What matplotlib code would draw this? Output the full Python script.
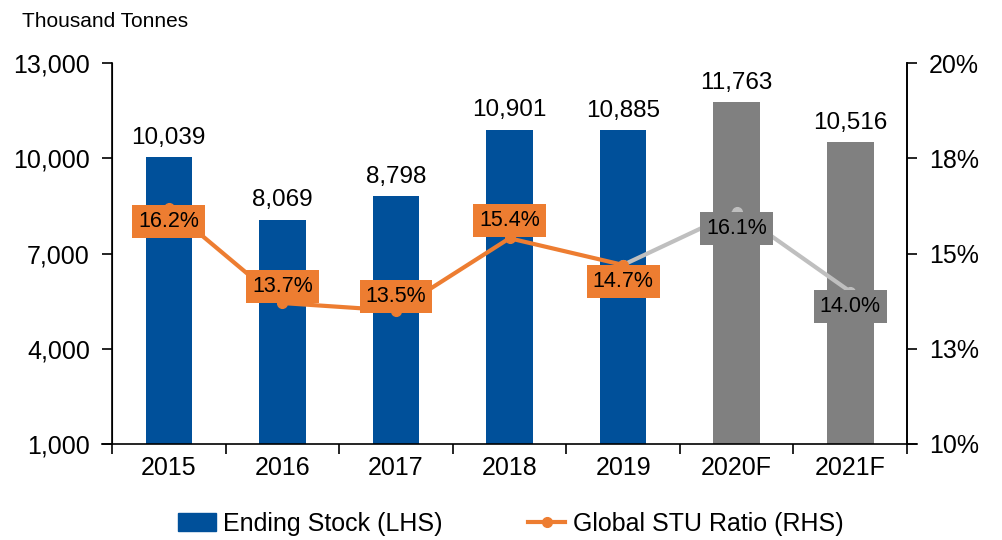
import matplotlib
matplotlib.use('Agg')
import matplotlib.pyplot as plt
from matplotlib.ticker import FuncFormatter, FixedLocator
from matplotlib.patches import Patch
from matplotlib.lines import Line2D

plt.rcParams['font.family'] = ['Liberation Sans', 'DejaVu Sans']

# 数据
years = ['2015', '2016', '2017', '2018', '2019', '2020F', '2021F']
ending_stock = [10039, 8069, 8798, 10901, 10885, 11763, 10516]
stu_ratio = [16.2, 13.7, 13.5, 15.4, 14.7, 16.1, 14.0]
n_actual = 5  # 前5年为实际值，其后为预测

# 样式
blue = '#00509A'
grey = '#808080'
orange = '#ED7D31'
light_grey = '#BFBFBF'
label_dy = [-10, 12, 10, 13, -12, -12, -11]  # 百分比标签的偏移(pt)

fig = plt.figure(figsize=(10.02, 5.4), dpi=100)
ax = fig.add_axes([0.1118, 0.1778, 0.7934, 0.7055])
ax2 = ax.twinx()

x = list(range(len(years)))
colors = [blue if i < n_actual else grey for i in x]
ax.bar(x, ending_stock, width=0.41, color=colors, zorder=2)

ax.set_xlim(-0.5, len(years) - 0.5)
ax.set_ylim(1000, 13000)
ax.set_yticks([1000, 4000, 7000, 10000, 13000])
ax.yaxis.set_major_formatter(FuncFormatter(lambda v, p: f'{v:,.0f}'))
ax.set_xticks(x)
ax.set_xticklabels(years)
ax.xaxis.set_minor_locator(FixedLocator([i - 0.5 for i in range(len(years) + 1)]))
ax.tick_params(axis='x', which='major', length=0, labelsize=18, pad=9)
ax.tick_params(axis='x', which='minor', length=7, width=1.2, direction='out')
ax.tick_params(axis='y', labelsize=18, length=7, width=1.2, direction='out', pad=9)
ax.spines['top'].set_visible(False)
ax.spines['bottom'].set_visible(False)
for s in ['left', 'right']:
    ax.spines[s].set_linewidth(1.2)
# 底部轴线两端略微伸出
ax.add_line(Line2D([-0.013, 1.013], [0, 0], transform=ax.transAxes, color='black',
                   lw=1.2, clip_on=False, zorder=5))

for i, v in enumerate(ending_stock):
    ax.annotate(f'{v:,}', (i, v), xytext=(0, 6), textcoords='offset points',
                ha='center', va='bottom', fontsize=17.5)

# 右轴 STU比率
ax2.set_ylim(10, 20)
ax2.set_yticks([10, 12.5, 15, 17.5, 20])
ax2.yaxis.set_major_formatter(FuncFormatter(lambda v, p: f'{int(v + 0.5)}%'))
ax2.tick_params(axis='y', labelsize=18, length=7, width=1.2, direction='out', pad=9)
ax2.spines['top'].set_visible(False)
ax2.spines['bottom'].set_visible(False)
ax2.spines['right'].set_linewidth(1.2)

ax2.plot(x[n_actual - 1:], stu_ratio[n_actual - 1:], color=light_grey, lw=3,
         marker='o', ms=7, zorder=3)
ax2.plot(x[:n_actual], stu_ratio[:n_actual], color=orange, lw=3,
         marker='o', ms=7, zorder=4)

for i, v in enumerate(stu_ratio):
    fc = orange if i < n_actual else grey
    ax2.annotate(f'{v:.1f}%', (i, v), xytext=(0, label_dy[i]), textcoords='offset points',
                 ha='center', va='center', fontsize=15.5, zorder=5,
                 bbox=dict(boxstyle='square,pad=0.28', fc=fc, ec='none'))

fig.text(0.022, 0.96, 'Thousand Tonnes', fontsize=15, ha='left', va='center')

handles = [Patch(color=blue), Line2D([], [], color=orange, lw=3, marker='o', ms=7)]
fig.legend(handles, ['Ending Stock (LHS)', 'Global STU Ratio (RHS)'],
           loc='center', bbox_to_anchor=(0.51, 0.03), ncol=2, frameon=False,
           fontsize=18, handlelength=1.5, handletextpad=0.3, columnspacing=3.4,
           borderpad=0.1)

fig.savefig('out.png', dpi=100)
